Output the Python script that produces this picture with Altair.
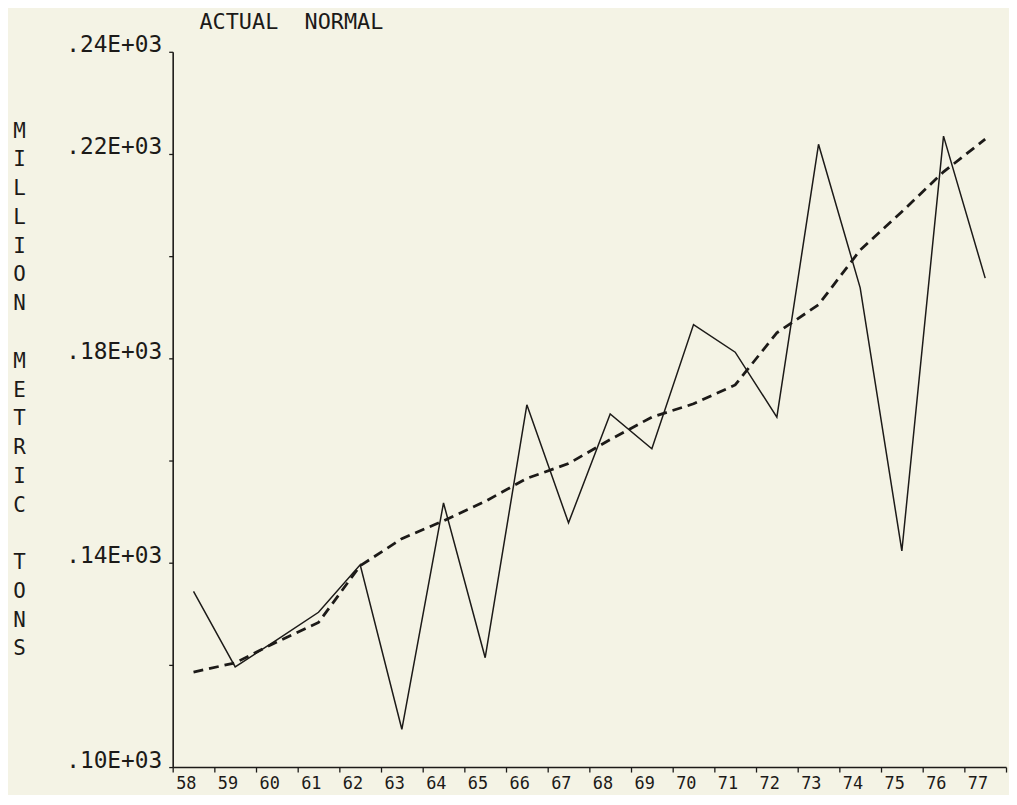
import altair as alt
import pandas as pd

# ---- data ----
years = [58, 59, 60, 61, 62, 63, 64, 65, 66, 67, 68, 69, 70, 71, 72, 73, 74, 75, 76, 77]
actual = [134.4, 119.6, 124.9, 130.3, 139.6, 107.4, 151.7, 121.4, 170.9, 147.8,
          169.1, 162.3, 186.6, 181.2, 168.5, 221.9, 193.8, 142.3, 223.5, 195.7]
normal = [118.6, 120.4, 124.5, 128.3, 139.4, 144.7, 148.2, 152.0, 156.5, 159.4,
          164.1, 168.5, 171.1, 174.8, 185.0, 190.5, 201.2, 208.7, 216.5, 222.9]

y_tick_values = [100, 120, 140, 160, 180, 200, 220, 240]
y_tick_labels = [".10E+03", "", ".14E+03", "", ".18E+03", "", ".22E+03", ".24E+03"]
x_tick_values = [y - 0.5 for y in years] + [years[-1] + 0.5]

BLANK = "\u2800"
y_title_lines = list("MILLION") + [BLANK] + list("METRIC") + [BLANK] + list("TONS")
legend_text = "ACTUAL\u00a0 NORMAL"

FONT = "DejaVu Sans Mono"
INK = "#1c1a18"
BG = "#f4f3e5"

df = pd.DataFrame({"year": years, "actual": actual, "normal": normal})

label_map = "{" + ", ".join(f"'{v}': '{l}'" for v, l in zip(y_tick_values, y_tick_labels)) + "}"
y_label_expr = f"{label_map}[''+datum.value]"
x_label_expr = f"datum.value < {years[-1]} ? '' + (datum.value + 0.5) : ''"

x_enc = alt.X(
    "year:Q",
    scale=alt.Scale(domain=[years[0] - 0.5, years[-1] + 0.5], nice=False, zero=False),
    axis=alt.Axis(
        values=x_tick_values, labelExpr=x_label_expr, title=None, grid=False,
        labelAlign="left", labelBaseline="top", labelOffset=3, labelPadding=4,
        tickSize=5, labelFlush=False, labelOverlap=False,
        labelFont=FONT, labelFontSize=17, labelColor=INK,
        domainColor=INK, domainWidth=1.6, tickColor=INK, tickWidth=1.3,
    ),
)

y_axis = alt.Axis(
    values=y_tick_values, labelExpr=y_label_expr, grid=False,
    title=y_title_lines, titleAngle=0, titleAlign="center", titleBaseline="alphabetic",
    titleX=-155, titleY=86, titleLineHeight=29, titleFont=FONT, titleFontSize=21,
    titleFontWeight="normal", titleColor=INK,
    labelBaseline="alphabetic", labelPadding=7, tickSize=4, labelFlush=False,
    labelOverlap=False, labelFont=FONT, labelFontSize=23, labelColor=INK,
    domainColor=INK, domainWidth=1.6, tickColor=INK, tickWidth=1.3,
)

y_scale = alt.Scale(domain=[100, 240], nice=False, zero=False)

base = alt.Chart(df)

actual_line = base.mark_line(color=INK, strokeWidth=1.5).encode(
    x=x_enc,
    y=alt.Y("actual:Q", scale=y_scale, axis=y_axis),
)

normal_line = base.mark_line(color=INK, strokeWidth=2.8, strokeDash=[10, 6]).encode(
    x=x_enc,
    y=alt.Y("normal:Q", scale=y_scale, axis=y_axis),
)

chart = (
    alt.layer(actual_line, normal_line)
    .properties(
        width=840,
        height=721,
        background=BG,
        padding={"left": 3, "top": 0, "right": 0, "bottom": 0},
        title=alt.TitleParams(
            legend_text, anchor="start", frame="group", dx=27, offset=-17,
            baseline="alphabetic", font=FONT, fontSize=22, fontWeight="normal", color=INK,
        ),
    )
    .configure_view(stroke=None)
)

chart.save("out.html", embed_options={"renderer": "svg", "actions": False})
